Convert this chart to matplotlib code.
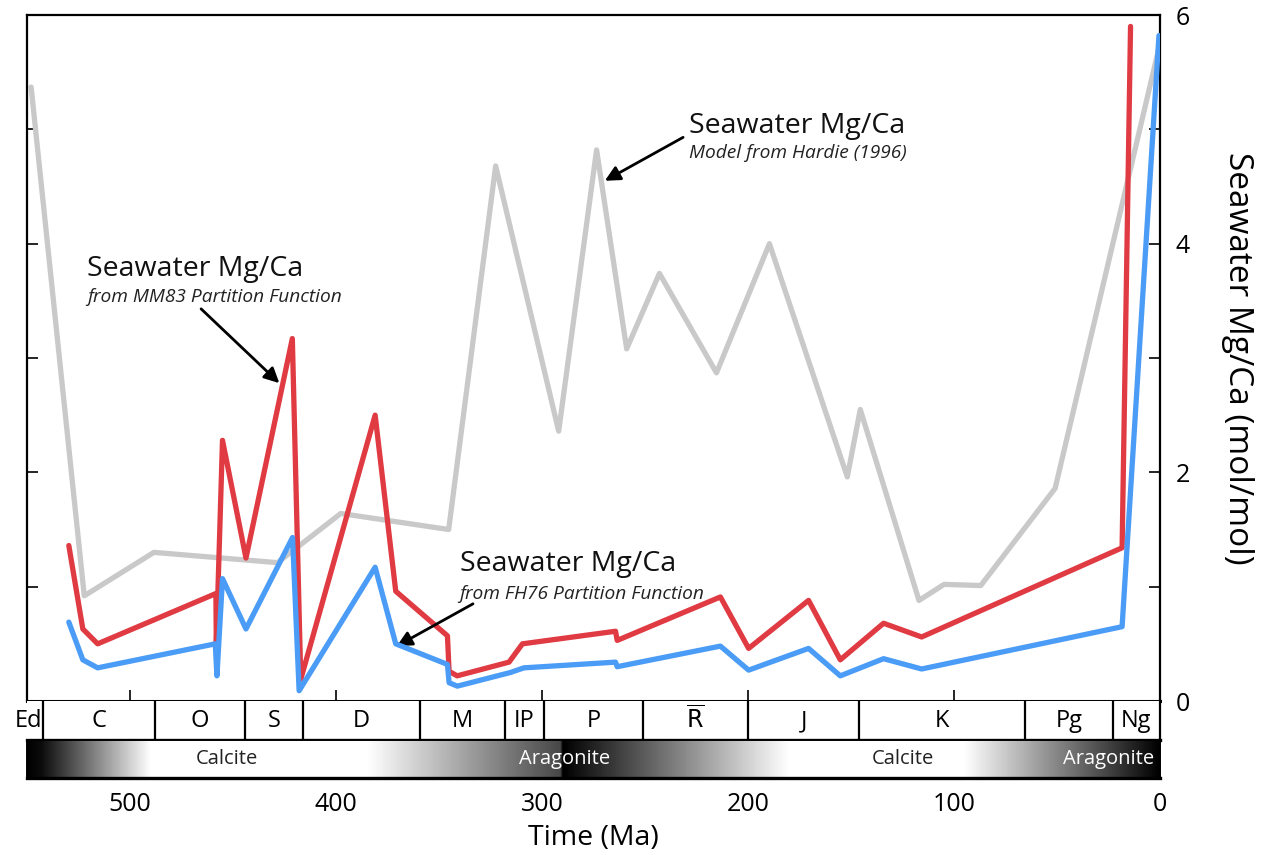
import numpy as np
import matplotlib
matplotlib.use("Agg")
import matplotlib.pyplot as plt

plt.rcParams['font.family'] = ['Open Sans', 'DejaVu Sans']
plt.rcParams['mathtext.fontset'] = 'dejavusans'

# --- Seawater Mg/Ca reconstructions (age in Ma, ratio in mol/mol) ---
hardie_age = [548, 522.2, 488.4, 428.4, 397.7, 345.3, 322.5, 291.9, 273.5, 258.9,
              243.0, 215.3, 189.6, 151.8, 145.5, 117.0, 104.8, 87.0, 50.9, 0.0]
hardie_mgca = [5.37, 0.92, 1.30, 1.21, 1.64, 1.50, 4.68, 2.36, 4.82, 3.08,
               3.74, 2.87, 4.00, 1.96, 2.55, 0.88, 1.02, 1.01, 1.86, 5.75]

mm83_age = [529.7, 522.9, 515.7, 458.3, 458.1, 455.1, 443.7, 421.2, 417.1, 381.0,
            371.0, 345.9, 345.1, 341.2, 316.0, 309.5, 264.3, 263.5, 213.4, 199.7,
            170.6, 155.2, 134.2, 115.7, 18.4, 14.3]
mm83_mgca = [1.36, 0.63, 0.50, 0.94, 0.50, 2.28, 1.25, 3.17, 0.19, 2.50,
             0.96, 0.57, 0.26, 0.22, 0.34, 0.50, 0.61, 0.53, 0.91, 0.46,
             0.88, 0.36, 0.68, 0.56, 1.34, 5.90]

fh76_age = [529.7, 522.9, 515.7, 458.6, 457.8, 455.1, 443.7, 421.1, 417.9, 381.0,
            371.0, 345.9, 345.1, 341.1, 315.2, 308.8, 264.3, 263.5, 213.4, 199.7,
            170.6, 155.2, 134.2, 115.7, 18.4, 0.5]
fh76_mgca = [0.69, 0.36, 0.29, 0.50, 0.22, 1.07, 0.63, 1.43, 0.09, 1.17,
             0.50, 0.32, 0.16, 0.13, 0.25, 0.29, 0.34, 0.30, 0.48, 0.27,
             0.46, 0.22, 0.37, 0.28, 0.65, 5.82]

# --- Geologic periods ---
period_bounds = [550, 542, 488, 444, 416, 359, 318, 299, 251, 200, 146, 65.5, 23, 0]
period_labels = ['Ed', 'C', 'O', 'S', 'D', 'M', 'IP', 'P',
                 r'$\mathsf{\overline{R}}$', 'J', 'K', 'Pg', 'Ng']

# --- Calcite / aragonite sea shading (0 = black, 1 = white) ---
sea_age = [550, 543, 490, 385, 291, 290.0, 180, 95, 0]
sea_shade = [0.0, 0.05, 1.0, 1.0, 0.28, 0.0, 1.0, 1.0, 0.0]
sea_labels = ['Calcite', 'Aragonite', 'Calcite', 'Aragonite']
sea_label_age = [453, 289, 125, 25]
sea_label_color = ['#222222', 'white', '#222222', 'white']

age_ticks = [500, 400, 300, 200, 100, 0]

W, H = 1274, 855
fig = plt.figure(figsize=(W / 100, H / 100), dpi=100)

def frac(x0, y0, x1, y1):
    return [x0 / W, 1 - y1 / H, (x1 - x0) / W, (y1 - y0) / H]

ax = fig.add_axes(frac(27, 15, 1160, 701))
ax_p = fig.add_axes(frac(27, 701, 1160, 740), sharex=ax)
ax_g = fig.add_axes(frac(27, 740, 1160, 778), sharex=ax)

red = '#e03a43'
blue = '#4a9cf6'
grey = '#c9c9c9'
lw = 3.8
kw = dict(solid_joinstyle='round', solid_capstyle='round')
ax.plot(hardie_age, hardie_mgca, color=grey, lw=lw, zorder=2, **kw)
ax.plot(mm83_age, mm83_mgca, color=red, lw=lw, zorder=3, **kw)
ax.plot(fh76_age, fh76_mgca, color=blue, lw=lw, zorder=4, **kw)

ax.set_xlim(550, 0)
ax.set_ylim(0, 6)
ax.set_yticks([0, 2, 4, 6])
ax.set_yticks([1, 3, 5], minor=True)
ax.set_xticks(age_ticks)
ax.tick_params(axis='both', which='both', direction='in', length=8, width=1.2,
               labelbottom=False, labelleft=False, labelright=True,
               left=True, right=True, top=False, bottom=True)
ax.tick_params(axis='y', labelsize=18, pad=11)
ax.yaxis.set_label_position('right')
ax.set_ylabel('Seawater Mg/Ca (mol/mol)', fontsize=24, rotation=270, labelpad=46)
for s in ['left', 'top', 'right']:
    ax.spines[s].set_linewidth(1.6)
ax.spines['bottom'].set_linewidth(2.2)

# annotations
title_fs = 20.5
sub_fs = 13.8
notes = [
    (521.0, 3.78, 3.53, 'from MM83 Partition Function', (465.5, 3.43), (427.5, 2.78)),
    (340.0, 1.20, 0.94, 'from FH76 Partition Function', (333.5, 0.85), (370.5, 0.48)),
    (228.5, 5.03, 4.79, 'Model from Hardie (1996)', (231.5, 4.93), (269.5, 4.55)),
]
for x, ty, sy, sub, tail, head in notes:
    ax.text(x, ty, 'Seawater Mg/Ca', fontsize=title_fs, ha='left', va='center', color='#111111')
    ax.text(x, sy, sub, fontsize=sub_fs, style='italic', ha='left', va='center', color='#222222')
    ax.annotate('', xy=head, xytext=tail,
                arrowprops=dict(arrowstyle='-|>,head_length=0.9,head_width=0.45',
                                lw=2.0, color='black', shrinkA=0, shrinkB=0))

# period row
ax_p.set_ylim(0, 1)
for b in period_bounds[1:-1]:
    ax_p.axvline(b, color='black', lw=1.6)
for i, lab in enumerate(period_labels):
    a0, a1 = period_bounds[i], period_bounds[i + 1]
    if lab == 'Ed':
        ax_p.text(a1 + 0.5, 0.48, lab, ha='right', va='center', fontsize=17, clip_on=False)
    else:
        ax_p.text((a0 + a1) / 2, 0.48, lab, ha='center', va='center', fontsize=17)
ax_p.tick_params(left=False, bottom=False, labelleft=False, labelbottom=False)
for s in ['left', 'top']:
    ax_p.spines[s].set_visible(False)
ax_p.spines['right'].set_linewidth(1.6)
ax_p.spines['bottom'].set_linewidth(2.4)

# calcite / aragonite bar
grid_age = np.linspace(550, 0, 1200)
shade = np.interp(grid_age[::-1], sea_age[::-1], sea_shade[::-1])[::-1]
ax_g.imshow(shade[np.newaxis, :], extent=[550, 0, 0, 1], aspect='auto',
            cmap='gray', vmin=0, vmax=1, interpolation='bilinear')
ax_g.set_xlim(550, 0)
ax_g.set_ylim(0, 1)
for lab, a, c in zip(sea_labels, sea_label_age, sea_label_color):
    ax_g.text(a, 0.5, lab, ha='center', va='center', fontsize=14.5, color=c)
ax_g.set_yticks([])
ax_g.set_xticks(age_ticks)
ax_g.tick_params(axis='x', length=0, labelsize=18, pad=10)
for s in ['left', 'top', 'right']:
    ax_g.spines[s].set_linewidth(1.4)
ax_g.spines['bottom'].set_linewidth(2.4)
ax_g.set_xlabel('Time (Ma)', fontsize=20.5, labelpad=5)

fig.savefig('out.png', dpi=100, facecolor='white')
